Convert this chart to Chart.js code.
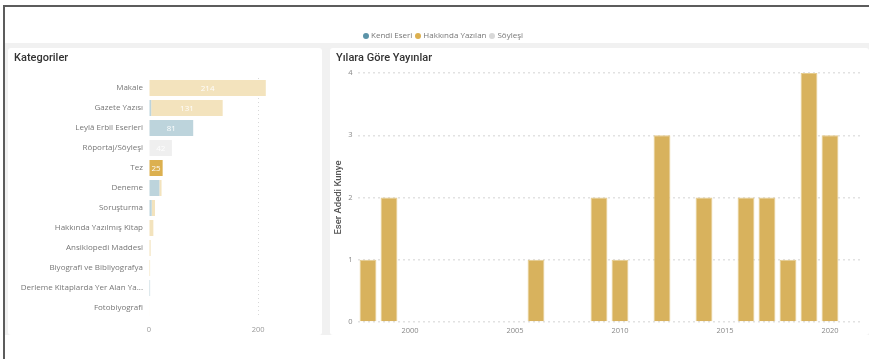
<!DOCTYPE html>
<html lang="tr">
<head>
<meta charset="utf-8">
<script src="https://cdn.jsdelivr.net/npm/chart.js@4"></script>
<style>
    body { margin: 0; width: 869px; height: 359px; background: #fff; position: relative; overflow: hidden; font-family: 'Open Sans', sans-serif; }
    .frame { position: absolute; left: 3px; top: 5px; width: 870px; height: 360px; border-left: 2px solid #5c5c5c; border-top: 2px solid #5c5c5c; }
    .band { position: absolute; left: 5px; top: 43px; width: 864px; height: 292px; background: #f1f1f1; }
    .panel { position: absolute; top: 48px; height: 287px; background: #fff; border-radius: 3px; }
    .title { position: absolute; top: 51px; font-family: Roboto, sans-serif; font-weight: 500; font-size: 11px; color: #333; }
    .legend { position: absolute; top: 29px; left: 363px; font-size: 8px; color: #777; white-space: nowrap; }
    .legend span { display: inline-block; margin-right: 3px; }
    .legend i { display: inline-block; width: 6px; height: 6px; border-radius: 50%; margin-right: 2px; vertical-align: -1px; }
</style>
</head>
<body>
<div class="frame"></div>
<div class="band"></div>
<div class="panel" style="left:8px;width:314px;">
    <canvas id="kategoriChart" width="314" height="287"></canvas>
</div>
<div class="panel" style="left:330px;width:539px;">
    <canvas id="yilChart" width="539" height="287"></canvas>
</div>
<div class="title" style="left:14px;">Kategoriler</div>
<div class="title" style="left:336px;">Yılara Göre Yayınlar</div>
<div class="legend" id="legend"></div>

<script>
// Categories and counts per publication type
const kategoriler = [
    'Makale', 'Gazete Yazısı', 'Leylâ Erbil Eserleri', 'Röportaj/Söyleşi', 'Tez', 'Deneme',
    'Soruşturma', 'Hakkında Yazılmış Kitap', 'Ansiklopedi Maddesi', 'Biyografi ve Bibliyografya',
    'Derleme Kitaplarda Yer Alan Ya...', 'Fotobiyografi'
];
const kendiEseri      = [0, 4, 81, 0, 0, 19, 5, 0, 0, 0, 2, 0];
const hakkindaYazilan = [214, 131, 0, 0, 25, 4, 6, 8, 3, 2, 0, 1];
const soylesi         = [0, 0, 0, 42, 0, 0, 0, 0, 0, 0, 0, 0];
const seciliKategori  = 'Tez';

// Publications per year
const yillar = [
    '1998', '1999', '2000', '2001', '2002', '2003', '2004', '2005', '2006', '2007', '2008', '2009',
    '2010', '2011', '2012', '2013', '2014', '2015', '2016', '2017', '2018', '2019', '2020', '2021'
];
const yayinSayisi = [1, 2, 0, 0, 0, 0, 0, 0, 1, 0, 0, 2, 1, 0, 3, 0, 2, 0, 2, 2, 1, 4, 3, 0];

const seriler = [
    { label: 'Kendi Eseri', data: kendiEseri, color: '#5b93a8', faded: '#bdd4dc' },
    { label: 'Hakkında Yazılan', data: hakkindaYazilan, color: '#dcb04f', faded: '#f3e3bd' },
    { label: 'Söyleşi', data: soylesi, color: '#d8d8d8', faded: '#efefef' }
];

const fontFamily = "'Open Sans', sans-serif";

// Legend row
document.getElementById('legend').innerHTML = seriler
    .map(s => `<span><i style="background:${s.color}"></i>${s.label}</span>`)
    .join('');

// Value labels inside the stacked segments
const segmentLabels = {
    id: 'segmentLabels',
    afterDatasetsDraw(chart) {
        const ctx = chart.ctx;
        ctx.save();
        ctx.font = `8px ${fontFamily}`;
        ctx.fillStyle = 'rgba(255,255,255,0.95)';
        ctx.textAlign = 'center';
        ctx.textBaseline = 'middle';
        chart.data.datasets.forEach((ds, i) => {
            chart.getDatasetMeta(i).data.forEach((bar, j) => {
                const v = ds.data[j];
                if (v < 20) return;
                ctx.fillText(v, (bar.base + bar.x) / 2, bar.y + 0.5);
            });
        });
        ctx.restore();
    }
};

new Chart(document.getElementById('kategoriChart'), {
    type: 'bar',
    data: {
        labels: kategoriler,
        datasets: seriler.map(s => ({
            label: s.label,
            data: s.data,
            backgroundColor: kategoriler.map(k => k === seciliKategori ? s.color : s.faded),
            borderWidth: 0,
            barPercentage: 0.8,
            categoryPercentage: 1
        }))
    },
    options: {
        indexAxis: 'y',
        responsive: false,
        animation: false,
        layout: { padding: { top: 30, right: 12, left: 0, bottom: 0 } },
        plugins: { legend: { display: false }, tooltip: { enabled: false } },
        scales: {
            x: {
                stacked: true,
                min: 0,
                max: 295,
                afterBuildTicks: scale => { scale.ticks = [{ value: 0 }, { value: 200 }]; },
                afterFit: scale => { scale.height = 17; },
                border: { display: false, dash: [1, 3] },
                grid: {
                    drawTicks: false,
                    color: c => c.tick && c.tick.value === 200 ? '#d8d8d8' : 'transparent'
                },
                ticks: { color: '#999', padding: 7, font: { family: fontFamily, size: 7.5 } }
            },
            y: {
                stacked: true,
                afterFit: scale => { scale.width = 141; },
                border: { display: false },
                grid: { display: false, drawTicks: false },
                ticks: { color: '#777', padding: 6, autoSkip: false, font: { family: fontFamily, size: 8 } }
            }
        }
    },
    plugins: [segmentLabels]
});

new Chart(document.getElementById('yilChart'), {
    type: 'bar',
    data: {
        labels: yillar,
        datasets: [{
            label: 'Hakkında Yazılan',
            data: yayinSayisi,
            backgroundColor: '#d8b25d',
            borderColor: '#e6cc8e',
            borderWidth: 1,
            barPercentage: 0.8,
            categoryPercentage: 1
        }]
    },
    options: {
        responsive: false,
        animation: false,
        layout: { padding: { top: 25, right: 7.5, left: 0, bottom: 0 } },
        plugins: { legend: { display: false }, tooltip: { enabled: false } },
        scales: {
            x: {
                afterFit: scale => { scale.height = 13; },
                border: { display: false },
                grid: { display: false, drawTicks: false },
                ticks: {
                    autoSkip: false,
                    maxRotation: 0,
                    padding: 4,
                    color: '#888',
                    font: { family: fontFamily, size: 7.5 },
                    callback: function (v) {
                        const y = Number(this.getLabelForValue(v));
                        return y % 5 === 0 ? String(y) : '';
                    }
                }
            },
            y: {
                min: 0,
                max: 4,
                afterFit: scale => { scale.width = 27.5; },
                border: { display: false, dash: [2, 3] },
                grid: { color: '#e2e2e2', drawTicks: false, lineWidth: 1.5 },
                ticks: { stepSize: 1, padding: 5, color: '#888', font: { family: fontFamily, size: 7.5 } },
                title: {
                    display: true,
                    text: 'Eser Adedi Kunye',
                    color: '#555',
                    padding: { top: 3, bottom: 0 },
                    font: { family: "Roboto, sans-serif", size: 9.5, weight: '500' }
                }
            }
        }
    }
});
</script>
</body>
</html>
